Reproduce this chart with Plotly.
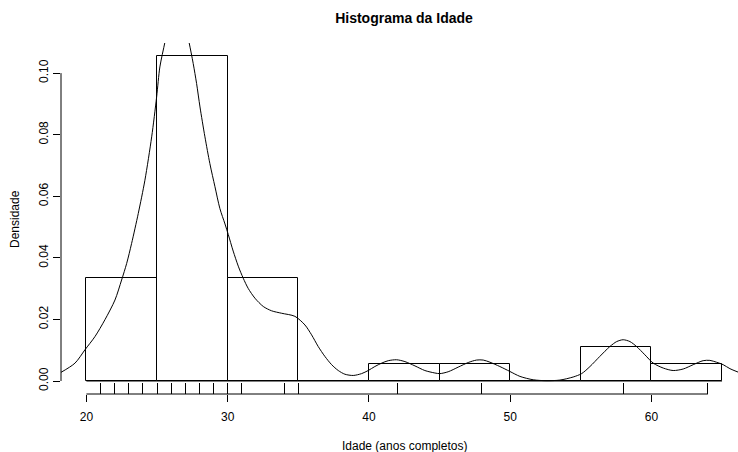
import plotly.graph_objects as go

# ---- data ----
breaks = [20, 25, 30, 35, 40, 45, 50, 55, 60, 65]
counts = [6, 19, 6, 0, 1, 1, 0, 2, 1]
n_total = 36
rug_ages = [21, 22, 23, 24, 25, 26, 27, 28, 29, 30, 31, 34, 35, 42, 48, 58, 64]

dens_x = [18.12, 19.19, 19.89, 20.60, 21.31, 22.02, 22.49, 22.85, 23.20, 23.67, 24.14, 24.62,
          24.97, 25.20, 25.56, 25.9, 26.3, 26.8, 27.26, 27.56, 27.80, 28.04, 28.39, 28.74,
          29.10, 29.45, 29.81, 30.04, 30.39, 30.75, 31.10, 31.45, 31.93, 32.52, 33.11,
          33.82, 34.76, 35.47, 35.94, 36.41, 36.88, 37.36, 37.83, 38.30, 38.89, 39.48,
          39.95, 40.42, 40.90, 41.37, 41.96, 42.55, 43.26, 43.96, 44.67, 45.03, 45.61,
          46.32, 47.03, 47.62, 48.09, 48.57, 49.27, 49.98, 50.69, 51.63, 52.58, 53.52,
          54.46, 55.06, 55.65, 56.35, 57.06, 57.54, 58.00, 58.48, 58.95, 59.54, 60.13,
          60.84, 61.54, 62.25, 62.96, 63.66, 64.14, 64.61, 65.08, 65.56, 66.13]
dens_y = [0.0026, 0.0058, 0.0101, 0.0144, 0.0199, 0.0263, 0.0328, 0.0382, 0.0447, 0.0544,
          0.0652, 0.0793, 0.0922, 0.1020, 0.1101, 0.118, 0.122, 0.119, 0.1101, 0.1031,
          0.0966, 0.0890, 0.0793, 0.0706, 0.0631, 0.0560, 0.0510, 0.0476, 0.0422, 0.0373,
          0.0334, 0.0301, 0.0269, 0.0242, 0.0228, 0.0220, 0.0210, 0.0182, 0.0150, 0.0112,
          0.0080, 0.0053, 0.0034, 0.0022, 0.0018, 0.0024, 0.0034, 0.0047, 0.0058, 0.0066,
          0.0069, 0.0063, 0.0049, 0.0034, 0.0026, 0.0024, 0.0030, 0.0045, 0.0060, 0.0068,
          0.0068, 0.0061, 0.0047, 0.0031, 0.0015, 0.0004, 0.0001, 0.0003, 0.0013, 0.0024,
          0.0047, 0.0080, 0.0112, 0.0128, 0.0134, 0.0128, 0.0112, 0.0085, 0.0058, 0.0042,
          0.0034, 0.0039, 0.0053, 0.0066, 0.0067, 0.0061, 0.0053, 0.0040, 0.0029]

x_ticks = [20, 30, 40, 50, 60]
y_ticks = [0.00, 0.02, 0.04, 0.06, 0.08, 0.10]
y_tick_text = ["0.00", "0.02", "0.04", "0.06", "0.08", "0.10"]

title_text = "Histograma da Idade"
x_title = "Idade (anos completos)"
y_title = "Densidade"

# ---- derived ----
centers = [(breaks[i] + breaks[i + 1]) / 2 for i in range(len(counts))]
widths = [breaks[i + 1] - breaks[i] for i in range(len(counts))]
density = [c / (n_total * w) for c, w in zip(counts, widths)]

FONT = "Liberation Sans, Arial, Helvetica, sans-serif"
W, H = 738, 452

fig = go.Figure()
fig.add_trace(go.Bar(x=centers, y=density, width=widths,
                     marker=dict(color="white", line=dict(color="black", width=1)),
                     showlegend=False, hoverinfo="skip"))
fig.add_trace(go.Scatter(x=dens_x, y=dens_y, mode="lines",
                         line=dict(color="black", width=1, shape="spline", smoothing=0.8),
                         showlegend=False, hoverinfo="skip"))
# invisible trace on rug axis so it renders
fig.add_trace(go.Scatter(x=rug_ages, y=[0] * len(rug_ages), xaxis="x2", mode="markers",
                         marker=dict(opacity=0), showlegend=False, hoverinfo="skip"))

xr = [18.2, 66.13]
ymax = max(density)
yr = [-0.04 * ymax, ymax * 1.04]

fig.update_layout(
    width=W, height=H,
    margin=dict(l=61, r=0, t=43, b=58, pad=0),
    paper_bgcolor="white", plot_bgcolor="white",
    font=dict(family=FONT, size=12, color="black"),
    bargap=0,
    xaxis=dict(range=xr, tickvals=x_ticks, ticktext=[str(v) for v in x_ticks],
               ticks="outside", ticklen=7, tickwidth=1, tickcolor="black",
               showline=False, showgrid=False, zeroline=False,
               ticklabelstandoff=5, tickfont=dict(size=12)),
    xaxis2=dict(range=xr, overlaying="x", anchor="y", side="bottom",
                tickvals=rug_ages, ticks="inside", ticklen=11, tickwidth=1,
                tickcolor="black", showticklabels=False, showline=False,
                showgrid=False, zeroline=False),
    yaxis=dict(range=yr, tickvals=y_ticks, ticktext=y_tick_text, tickangle=-90,
               ticks="outside", ticklen=7, tickwidth=1, tickcolor="black",
               showline=False, showgrid=False, zeroline=False,
               tickfont=dict(size=12)),
    title=dict(text="<b>" + title_text + "</b>", x=404 / W, xanchor="center",
               xref="container", y=1 - 18 / H, yanchor="middle", yref="container",
               font=dict(size=14, family=FONT)),
)

# axis lines (R style: spanning from first to last tick / rug mark)
line_x0 = min(x_ticks[0], min(rug_ages))
line_x1 = max(x_ticks[-1], max(rug_ages))
fig.add_shape(type="line", xref="x", yref="paper", x0=line_x0, x1=line_x1, y0=0, y1=0,
              line=dict(color="black", width=1))
fig.add_shape(type="line", xref="paper", yref="y", x0=0, x1=0, y0=y_ticks[0], y1=y_ticks[-1],
              line=dict(color="black", width=1))
# baseline of histogram
fig.add_shape(type="line", xref="x", yref="y", x0=breaks[0], x1=breaks[-1], y0=0, y1=0,
              line=dict(color="black", width=1))

# titles as annotations
fig.add_annotation(text=x_title, xref="paper", yref="paper",
                   x=(404 - 61) / (W - 61), y=-(446 - 394) / (394 - 43),
                   xanchor="center", yanchor="middle", showarrow=False,
                   font=dict(size=12, family=FONT))
fig.add_annotation(text=y_title, xref="paper", yref="paper",
                   x=-(61 - 15) / (W - 61), y=(394 - 219) / (394 - 43),
                   xanchor="center", yanchor="middle", textangle=-90, showarrow=False,
                   font=dict(size=12, family=FONT))

fig.write_html("out.html")
